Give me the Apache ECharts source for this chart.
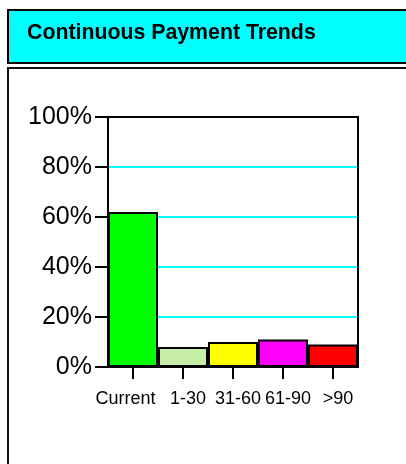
<!DOCTYPE html>
<html>
<head>
<meta charset="utf-8">
<script src="https://cdn.jsdelivr.net/npm/echarts@6/dist/echarts.min.js"></script>
<style>
html,body{margin:0;padding:0;background:#fff;}
#chart{width:406px;height:464px;}
</style>
</head>
<body>
<div id="chart"></div>
<script>
// ---- data ----
var titleText = 'Continuous Payment Trends';
var categories = ['Current', '1-30', '31-60', '61-90', '>90'];
var values = [62, 8, 10, 11, 9];
var yMin = 0, yMax = 100, yStep = 20;

// ---- styles ----
var palette = ['#00ff00', '#c6eea6', '#ffff00', '#ff00ff', '#ff0000'];
var FONT = "'Liberation Sans', Arial, Helvetica, sans-serif";

var chart = echarts.init(document.getElementById('chart'), null, {renderer: 'canvas'});

var option = {
  animation: false,
  backgroundColor: '#ffffff',
  title: {
    text: titleText,
    left: 27,
    top: 23,
    padding: 0,
    textStyle: {fontFamily: FONT, fontSize: 21.3, fontWeight: 'bold', color: '#000', lineHeight: 21}
  },
  graphic: [
    {type: 'rect', z: -10, shape: {x: 8, y: 10, width: 420, height: 53},
     style: {fill: '#00ffff', stroke: '#000', lineWidth: 2}},
    {type: 'rect', z: -10, shape: {x: 8, y: 68, width: 420, height: 420},
     style: {fill: '#ffffff', stroke: '#111', lineWidth: 2}}
  ],
  grid: {left: 108, top: 117, width: 250, height: 250, containLabel: false},
  xAxis: [
    {
      type: 'category',
      data: categories,
      position: 'bottom',
      axisLine: {show: true, onZero: false, lineStyle: {color: '#000', width: 2}},
      axisTick: {show: true, alignWithLabel: true, length: 12, lineStyle: {color: '#000', width: 2}},
      axisLabel: {
        margin: 23,
        fontFamily: FONT, fontSize: 18, color: '#000', lineHeight: 18,
        interval: 0,
        formatter: function (v, i) { return i === 0 ? '{a|' + v + '}' : '{b|' + v + '}'; },
        rich: {
          a: {fontFamily: FONT, fontSize: 18, color: '#000', padding: [0, 15, 0, 0]},
          b: {fontFamily: FONT, fontSize: 18, color: '#000', padding: [0, 0, 0, 10]}
        }
      },
      splitLine: {show: false}
    },
    {
      type: 'category',
      data: categories,
      position: 'top',
      z: 5,
      axisLine: {show: true, onZero: false, lineStyle: {color: '#000', width: 2}},
      axisTick: {show: false},
      axisLabel: {show: false},
      splitLine: {show: false}
    }
  ],
  yAxis: [
    {
      type: 'value',
      min: yMin, max: yMax, interval: yStep,
      position: 'left',
      axisLine: {show: true, onZero: false, lineStyle: {color: '#000', width: 2}},
      axisTick: {show: true, length: 13, lineStyle: {color: '#000', width: 2}},
      axisLabel: {margin: 16, fontFamily: FONT, fontSize: 25, color: '#000',
                  formatter: '{value}%'},
      splitLine: {show: true, lineStyle: {color: '#00ffff', width: 2}}
    },
    {
      type: 'value',
      min: yMin, max: yMax, interval: yStep,
      position: 'right',
      z: 5,
      axisLine: {show: true, onZero: false, lineStyle: {color: '#000', width: 2}},
      axisTick: {show: false},
      axisLabel: {show: false},
      splitLine: {show: false}
    }
  ],
  series: [{
    type: 'bar',
    xAxisIndex: 0,
    yAxisIndex: 0,
    barCategoryGap: '0%',
    z: 3,
    data: values.map(function (v, i) {
      return {value: v, itemStyle: {color: palette[i], borderColor: '#000', borderWidth: 2}};
    })
  }]
};
chart.setOption(option);
</script>
</body>
</html>
